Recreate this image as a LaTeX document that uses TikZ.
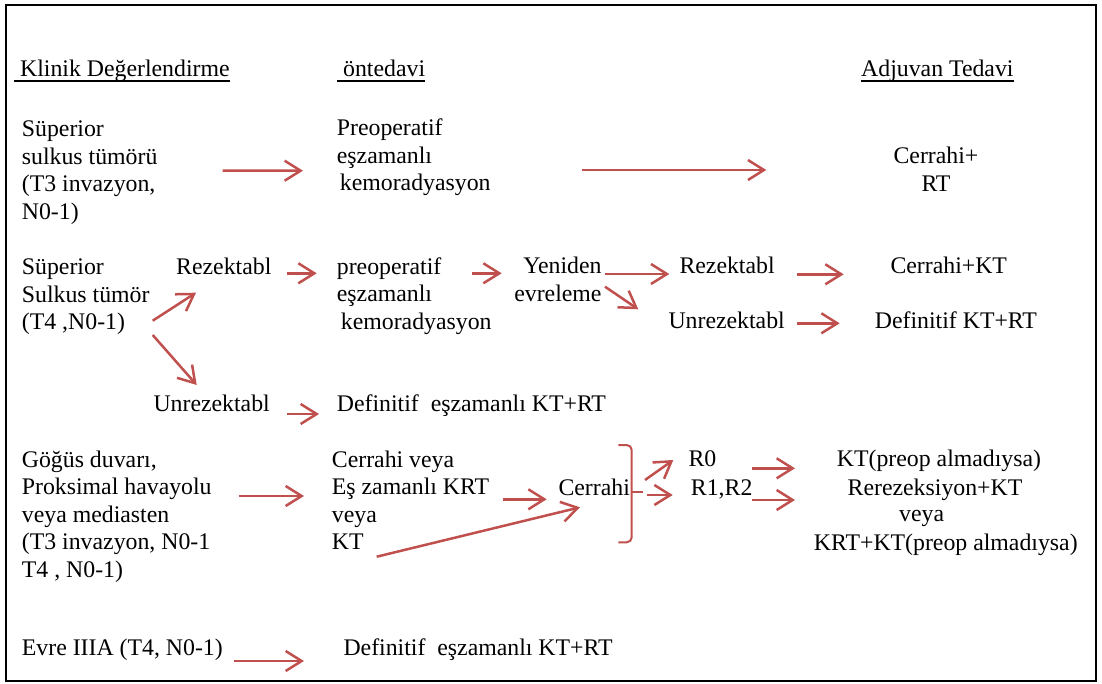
\documentclass[tikz,border=0pt]{standalone}
\usepackage{fontspec}
\setmainfont{Liberation Serif}
\usetikzlibrary{arrows.meta}
\usetikzlibrary{calc}
\definecolor{arrowred}{RGB}{192,80,77}

\begin{document}
\begin{tikzpicture}[x=1pt, y=-1pt,
    every node/.style={inner sep=0pt, font=\fontsize{23.8}{27.5}\selectfont},
    blk/.style={anchor=north west, align=left},
    lbl/.style={anchor=base west},
    mid/.style={anchor=base},
    arr/.style={draw=arrowred, line width=2.5pt, -{Straight Barb[length=16pt,width=20pt]}},
    bracketline/.style={draw=arrowred, line width=2pt, rounded corners=5pt},
    uline/.style={line width=1.4pt}]
  \useasboundingbox (0,0) rectangle (1102,684);
  % outer frame
  \draw[line width=1.6pt] (6,5) rectangle (1096,681);

  % column titles
  \node[lbl] (hkd) at (14,76.5) {\ Klinik Değerlendirme};
  \node[lbl] (hon) at (337,76.5) {\ öntedavi};
  \node[lbl] (had) at (861,76.5) {Adjuvan Tedavi};
  \foreach \h in {hkd,hon,had}
    \draw[uline] ($(\h.base west)+(0,4.5)$) -- ($(\h.base east)+(0,4.5)$);

  % superior sulkus, T3
  \node[blk] (s1) at (21.7,120.6) {Süperior\\sulkus tümörü\\(T3 invazyon,\\N0-1)};
  \node[blk] (p1) at (336.7,118.9) {Preoperatif\\eşzamanlı\\\hspace*{3pt}kemoradyasyon};
  \node[anchor=north, align=center] (c1) at (936,147.2) {Cerrahi+\\RT};
  \draw[arr] ($(s1.north west)+(201,50.1)$) -- ($(p1.north west)+(-33.7,51.8)$);
  \draw[arr] ($(p1.north west)+(245,51.1)$) -- ($(c1.north)+(-169.7,22.8)$);

  % superior sulkus, T4
  \node[blk] (s2) at (21.7,258.9) {Süperior\\Sulkus tümör\\(T4 ,N0-1)};
  \node[lbl] (rz) at (176,275) {Rezektabl};
  \node[blk] (p2) at (336.7,257.2) {preoperatif\\eşzamanlı\\\hspace*{4pt}kemoradyasyon};
  \node[anchor=north east, align=right] (ye) at (601.7,257.2) {Yeniden\\evreleme};
  \node[lbl] (rz2) at (679.3,273.3) {Rezektabl};
  \node[lbl] (ck) at (890.3,273.3) {Cerrahi+KT};
  \node[lbl] (ur2) at (668.3,328.3) {Unrezektabl};
  \node[lbl] (dk) at (874.7,328.3) {Definitif KT+RT};
  \node[lbl] (ur) at (153.3,411.7) {Unrezektabl};
  \node[lbl] (dd) at (336.7,411.7) {Definitif\ \ eşzamanlı KT+RT};
  \draw[arr] ($(s2.north west)+(131,61.8)$) -- ($(rz.base west)+(20,17.7)$);
  \draw[arr] ($(s2.north west)+(131,76.1)$) -- ($(ur.base west)+(43.4,-26.7)$);
  \draw[arr] ($(rz.base west)+(110.7,-1.7)$) -- ($(p2.north west)+(-20,16.1)$);
  \draw[arr] ($(p2.north west)+(135,16.1)$) -- ($(ye.north east)+(-100,16.1)$);
  \draw[arr] ($(ye.north east)+(3.3,16.8)$) -- ($(rz2.base west)+(-10,0.7)$);
  \draw[arr] ($(ye.north east)+(3.3,29.5)$) -- ($(ur2.base west)+(-30,-19)$);
  \draw[arr] ($(rz2.base west)+(117.7,1)$) -- ($(ck.base west)+(-46.6,1)$);
  \draw[arr] ($(ur2.base west)+(128.7,-5)$) -- ($(dk.base west)+(-35,-5)$);
  \draw[arr] ($(ur.base west)+(133.7,2.3)$) -- ($(dd.base west)+(-17.7,2.3)$);

  % chest wall / airway / mediastinum
  \node[blk] (s3) at (21.7,450.6) {Göğüs duvarı,\\Proksimal havayolu\\veya mediasten\\(T3 invazyon, N0-1\\T4 , N0-1)};
  \node[blk] (k3) at (331.7,450.6) {Cerrahi veya\\Eş zamanlı KRT\\veya\\KT};
  \node[lbl] (cr) at (558.3,495) {Cerrahi};
  \node[lbl] (r0) at (688.3,466.7) {R0};
  \node[lbl] (r12) at (690.7,495) {R1,R2};
  \node[mid] (kt) at (939,466.7) {KT(preop almadıysa)};
  \node[mid] (rr) at (935,495) {Rerezeksiyon+KT};
  \node[mid] (vy) at (921.7,521.7) {veya};
  \node[mid] (krt) at (945.8,550) {KRT+KT(preop almadıysa)};
  \draw[arr] ($(s3.north west)+(217,45.4)$) -- ($(k3.north west)+(-27.7,45.4)$);
  \draw[arr] ($(k3.north west)+(171,48.7)$) -- ($(cr.base west)+(-11.6,4.3)$);
  \draw[arr] ($(k3.north west)+(45,106.1)$) -- ($(cr.base west)+(21.7,12.3)$);
  % bracket after Cerrahi
  \draw[bracketline] ($(cr.base west)+(60,-50)$) -- ++(13.4,0) -- ++(0,97.3) -- ++(-13.4,0);
  \draw[bracketline] ($(cr.base west)+(73.4,-2.7)$) -- ++(11.6,0);
  \draw[arr] ($(cr.base west)+(86.7,-15)$) -- ($(r0.base west)+(-15,-6.7)$);
  \draw[arr] ($(cr.base west)+(88.4,0)$) -- ($(r12.base west)+(-18,0)$);
  \draw[arr] ($(r0.base west)+(63.4,1.6)$) -- ($(kt.base)+(-144,1.6)$);
  \draw[arr] ($(r12.base west)+(61,5)$) -- ($(rr.base)+(-140,5)$);

  % stage IIIA
  \node[lbl] (ev) at (21.7,655) {Evre IIIA (T4, N0-1)};
  \node[lbl] (d4) at (343.3,655) {Definitif\ \ eşzamanlı KT+RT};
  \draw[arr] ($(ev.base west)+(212.6,6)$) -- ($(d4.base west)+(-39.3,6)$);
\end{tikzpicture}
\end{document}
